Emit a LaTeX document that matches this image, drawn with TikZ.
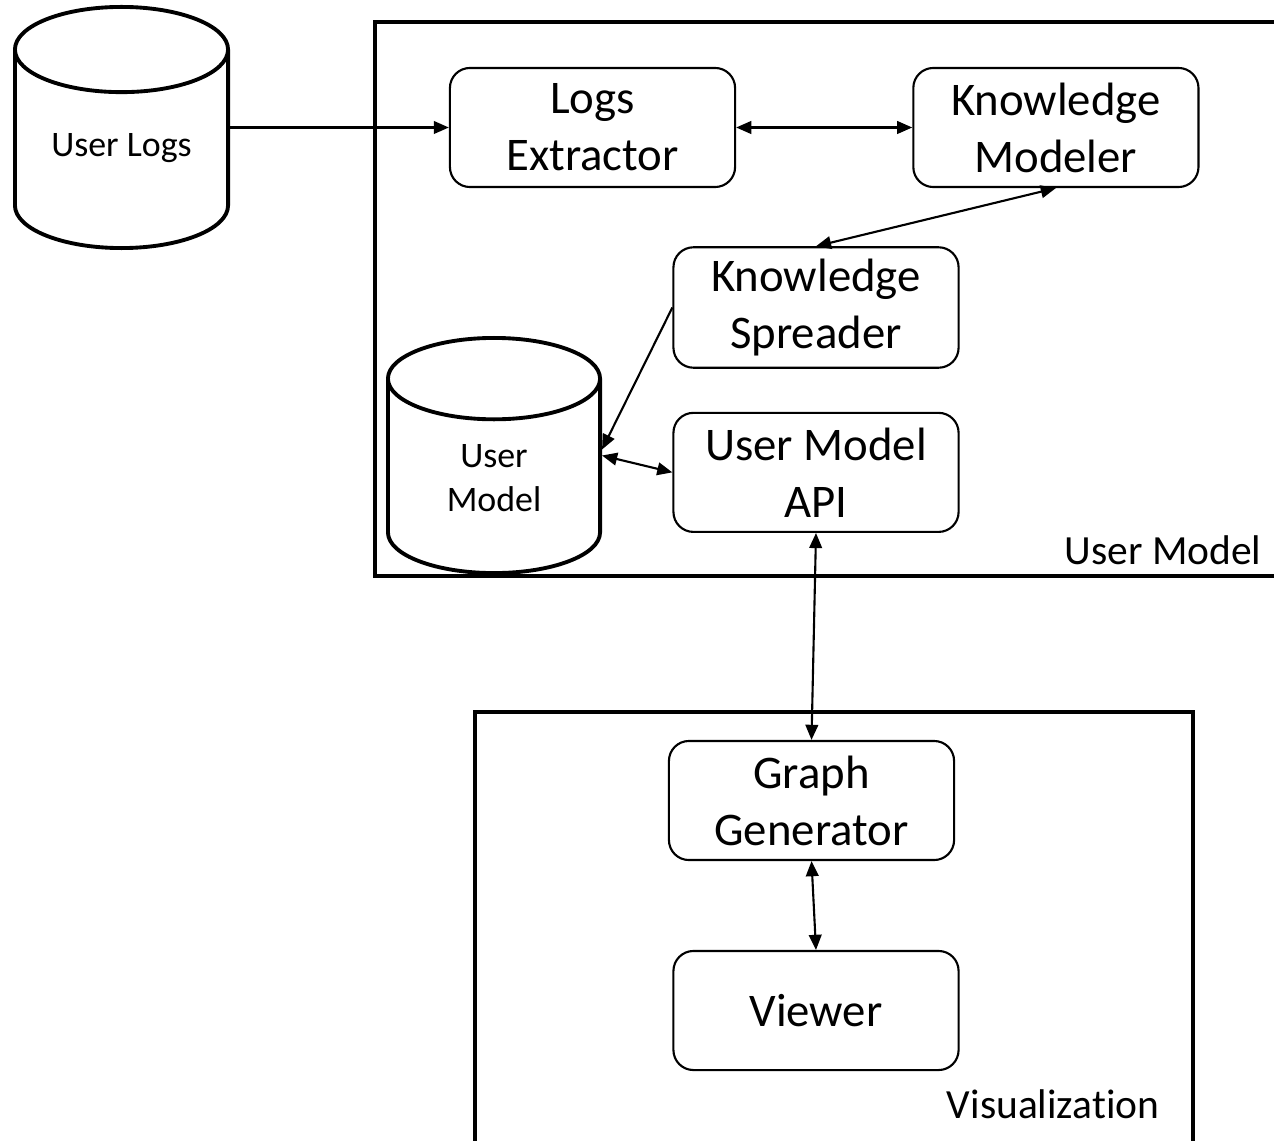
\documentclass[tikz,border=0pt]{standalone}
\usepackage{fontspec}
\setmainfont{Carlito}[Ligatures=NoCommon]
\usetikzlibrary{arrows.meta,positioning,shapes.geometric}
\tikzstyle{store} = [
	cylinder,
	shape border rotate = 90,
	aspect = 0.6,
	anchor = shape center,
	line width = 1.1pt,
	font = \fontsize{10.2}{12.5}\selectfont,
	align = center,
	draw
	]
\tikzstyle{storetext} = [
	font = \fontsize{10.2}{12.5}\selectfont,
	align = center
	]
\tikzstyle{module} = [
	rectangle,
	rounded corners = 0.2cm,
	minimum width = 2.85cm,
	minimum height = 1.19cm,
	line width = 0.6pt,
	font = \fontsize{13.3}{16.2}\selectfont,
	align = center,
	draw
	]
\tikzstyle{frame} = [
	line width = 1.1pt,
	draw
	]
\tikzstyle{flow} = [
	-{Triangle[length=4.3pt,width=3.6pt]},
	line width = 0.6pt,
	draw
	]
\tikzstyle{bidir} = [
	{Triangle[length=4.3pt,width=3.6pt]}-{Triangle[length=4.3pt,width=3.6pt]},
	line width = 0.6pt,
	draw
	]
\tikzstyle{caption} = [
	font = \fontsize{11.8}{14}\selectfont,
	anchor = base east,
	inner sep = 0pt
	]
\begin{document}
\begin{tikzpicture}[x=0.01cm,y=-0.01cm]
		\clip (0,0) rectangle (1274,1140);
		% the two frames
		\draw[frame] (375,22) rectangle (1300,576);
		\draw[frame] (475,712) rectangle (1193,1170);
		\node[caption] (umlabel) at (1262,564) {User Model};
		\node[caption] (vislabel) at (1160,1118) {Visualization};
		% user model side
		\node[store, aspect=0.52, minimum width=2.13cm, minimum height=2.41cm] (logs) at (121.5,127.5) {\phantom{User Logs}};
		\node[storetext] (logstext) at (121.5,148) {User Logs};
		\node[module] (extractor) at (592.5,127.5) {Logs\\Extractor};
		\node[module, right=1.76cm of extractor] (modeler) {Knowledge\\Modeler};
		\node[module] (spreader) at (816,307.5) {Knowledge\\Spreader};
		\node[module, below=0.43cm of spreader] (api) {User Model\\API};
		\node[store, aspect=0.69, minimum width=2.12cm, minimum height=2.35cm] (umodel) at (494,455.5) {\phantom{User}\\\phantom{Model}};
		\node[storetext] (umtext) at (494,478) {User\\Model};
		% visualization side
		\node[module] (graphgen) at (811.5,800.5) {Graph\\Generator};
		\node[module] (viewer) at (816,1010.5) {Viewer};
		\draw[flow] (logs.shape center -| logs.east) -- (extractor);
		\draw[bidir] (extractor) -- (modeler);
		\draw[bidir] (modeler.south) -- (spreader.north);
		\draw[flow] (spreader.west) -- ([yshift=0.06cm]umodel.shape center -| umodel.east);
		\draw[bidir] (umodel.shape center -| umodel.east) -- (api.west);
		\draw[bidir] (api.south) -- (graphgen.north);
		\draw[bidir] (graphgen.south) -- (viewer.north);
	\end{tikzpicture}
\end{document}
